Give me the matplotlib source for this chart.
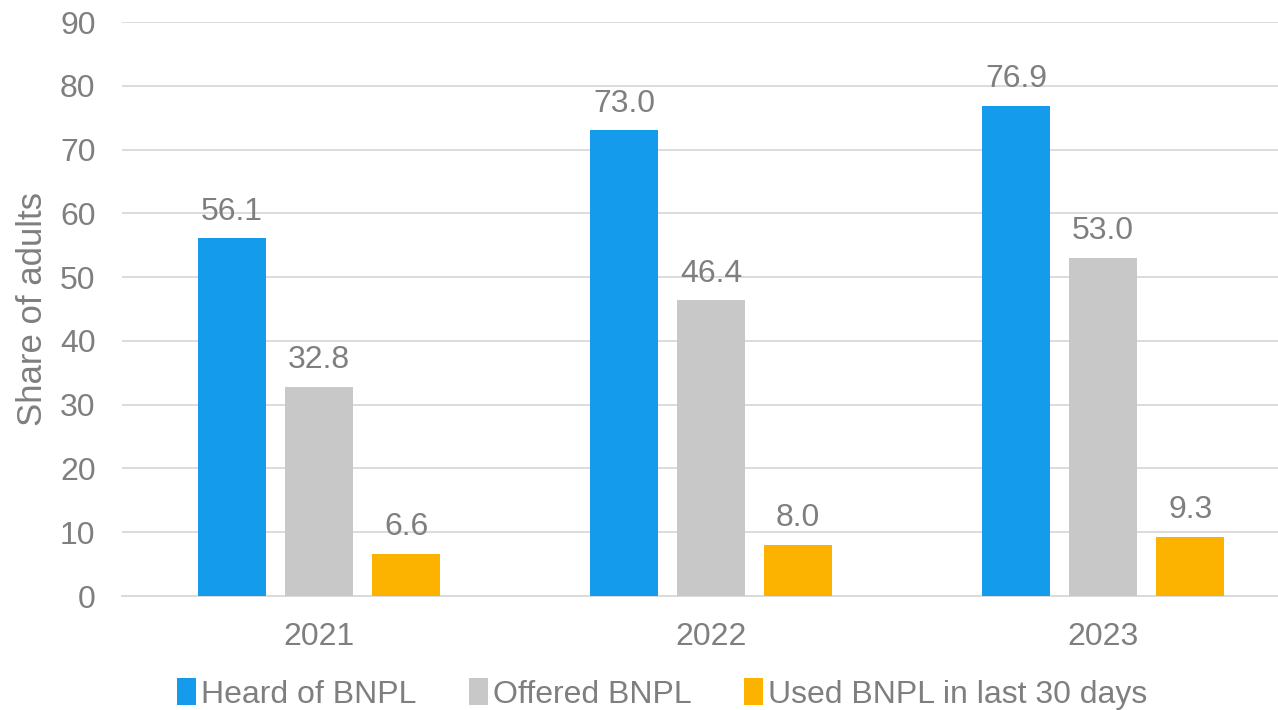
import numpy as np
import matplotlib.pyplot as plt

years = ["2021", "2022", "2023"]
heard = [56.1, 73.0, 76.9]
offered = [32.8, 46.4, 53.0]
used = [6.6, 8.0, 9.3]

series = [
    ("Heard of BNPL", heard, "#159BEB"),
    ("Offered BNPL", offered, "#C8C8C8"),
    ("Used BNPL in last 30 days", used, "#FCB300"),
]

txt = "#7F7F7F"
plt.rcParams['font.family'] = ['Liberation Sans', 'DejaVu Sans']

fig = plt.figure(figsize=(12.78, 7.10), dpi=100)
ax = fig.add_axes([122 / 1278, 1 - 596 / 710, (1278 - 122) / 1278, (596 - 22) / 710])

x = np.arange(len(years))
w = 0.173
step = 0.222
for i, (name, vals, col) in enumerate(series):
    pos = x + (i - 1) * step
    ax.bar(pos, vals, w, color=col, label=name, zorder=3)
    for p, v in zip(pos, vals):
        ax.text(p, v + 1.8, f"{v:.1f}", ha="center", va="bottom",
                fontsize=23, color=txt)

ax.set_ylim(0, 90)
ax.set_xlim(-0.5026, 2.446)
ax.set_yticks(range(0, 91, 10))
ax.set_xticks(x)
ax.set_xticklabels(years)
ax.tick_params(axis="both", length=0, labelsize=23, labelcolor=txt)
ax.tick_params(axis="y", pad=19)
ax.tick_params(axis="x", pad=19)
ax.grid(axis="y", color="#D9D9D9", linewidth=1.3, zorder=0)
for s in ["top", "right", "left"]:
    ax.spines[s].set_visible(False)
ax.spines["bottom"].set_color("#D9D9D9")
ax.spines["bottom"].set_linewidth(1.3)

ax.set_ylabel("Share of adults", fontsize=25, color=txt, labelpad=8)

fig.legend(loc="lower center", bbox_to_anchor=(0.518, -0.04), ncol=3,
           frameon=False, fontsize=23, labelcolor=txt, handlelength=0.6,
           handleheight=0.95, handletextpad=0.15, columnspacing=1.65)

fig.savefig("out.png", dpi=100)
